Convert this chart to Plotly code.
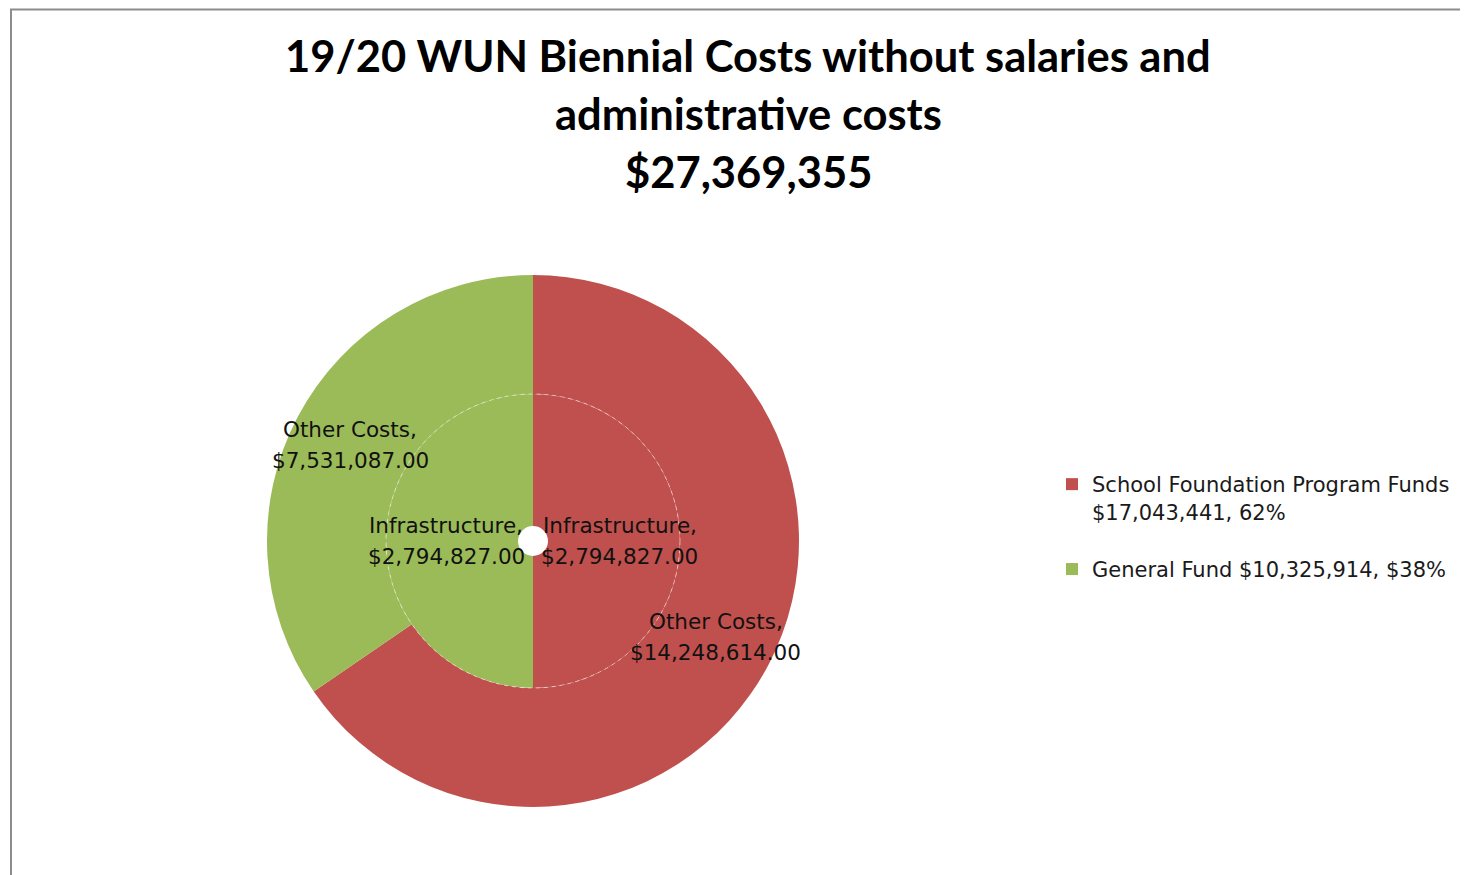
import math
import plotly.graph_objects as go

# ---- data ----
categories = ["Infrastructure", "Other Costs"]
sfp_values = [2794827, 14248614]      # School Foundation Program Funds
gf_values = [2794827, 7531087]        # General Fund
fund_names = ["School Foundation Program Funds", "General Fund"]
fund_totals_text = ["$17,043,441", "$10,325,914"]
fund_pct_text = ["62%", "$38%"]
grand_total_text = "$27,369,355"

RED = "#C0504D"
GREEN = "#9BBB59"

# the page body has an 8px margin, so the figure is 8px smaller and
# all pixel positions are shifted by 8
OFF = 8
W, H = 1468 - OFF, 875 - OFF
cx, cy = 533 - OFF, 541 - OFF      # pie centre in px (figure coords)
r_out, r_mid, r_in = 266, 147, 15

legend_labels = [
    fund_names[0] + " <br>" + fund_totals_text[0] + ", " + fund_pct_text[0] + "<br> ",
    fund_names[1] + " " + fund_totals_text[1] + ", " + fund_pct_text[1],
]


def dom(r):
    return dict(x=[(cx - r) / W, (cx + r) / W],
                y=[(H - cy - r) / H, (H - cy + r) / H])


def fmt(v):
    return "${:,.2f}".format(v)


fig = go.Figure()

rings = [
    # (values, label, hole ratio, domain radius, label radius)
    ([sfp_values[1], gf_values[1]], categories[1], r_mid / r_out, r_out, (r_mid + r_out) / 2),
    ([sfp_values[0], gf_values[0]], categories[0], r_in / r_mid, r_mid, 0.59 * r_mid),
]

label_font = dict(family="DejaVu Sans", size=21.5, color="#111111")
line_gap = 31

for i, (vals, cat, hole, rdom, rlab) in enumerate(rings):
    fig.add_trace(go.Pie(
        labels=legend_labels,
        values=vals,
        textinfo="none",
        hole=hole,
        sort=False,
        direction="clockwise",
        rotation=0,
        marker=dict(colors=[RED, GREEN], line=dict(width=0)),
        domain=dom(rdom),
        showlegend=(i == 0),
        hoverinfo="label+value",
    ))
    # slice labels at the middle angle of each slice
    total = sum(vals)
    cum = 0
    for v in vals:
        theta = math.radians((cum + v / 2) / total * 360)
        cum += v
        px = cx + rlab * math.sin(theta)
        py = cy - rlab * math.cos(theta)
        for k, line in enumerate([cat + ",", fmt(v)]):
            ly = py + (k - 0.5) * line_gap
            fig.add_annotation(text=line, x=px / W, y=1 - ly / H,
                               xref="paper", yref="paper", showarrow=False,
                               xanchor="center", yanchor="middle",
                               font=label_font)

# title lines
title_lines = ["19/20 WUN Biennial Costs without salaries and",
               "administrative costs", grand_total_text]
title_y = [55, 113, 171]
for t, y in zip(title_lines, title_y):
    fig.add_annotation(text="<b>" + t + "</b>", x=(748 - OFF) / W, y=1 - (y - OFF) / H,
                       xref="paper", yref="paper", showarrow=False,
                       xanchor="center", yanchor="middle",
                       font=dict(family="Lato", size=43.5, color="black"))

# faint dashed circle between rings
fig.add_shape(type="circle", xref="paper", yref="paper",
              xsizemode="pixel", ysizemode="pixel",
              xanchor=cx / W, yanchor=1 - cy / H,
              x0=-r_mid, x1=r_mid, y0=-r_mid, y1=r_mid,
              line=dict(color="rgba(255,255,255,0.5)", width=1, dash="4px,4px"),
              layer="above")

# chart border (left and top edges visible)
fig.add_shape(type="rect", xref="paper", yref="paper",
              x0=(11 - OFF) / W, x1=1.05, y0=-0.05, y1=1 - 1.5 / H,
              line=dict(color="#8c8c8c", width=2), layer="below")

fig.update_layout(
    width=W, height=H,
    margin=dict(l=0, r=0, t=0, b=0),
    paper_bgcolor="white", plot_bgcolor="white",
    legend=dict(x=(1052 - OFF) / W, y=1 - (464 - OFF) / H,
                xanchor="left", yanchor="top", valign="top",
                font=dict(family="DejaVu Sans", size=21, color="#1a1a1a"),
                traceorder="normal", bgcolor="rgba(0,0,0,0)"),
)

fig.write_html("out.html")
